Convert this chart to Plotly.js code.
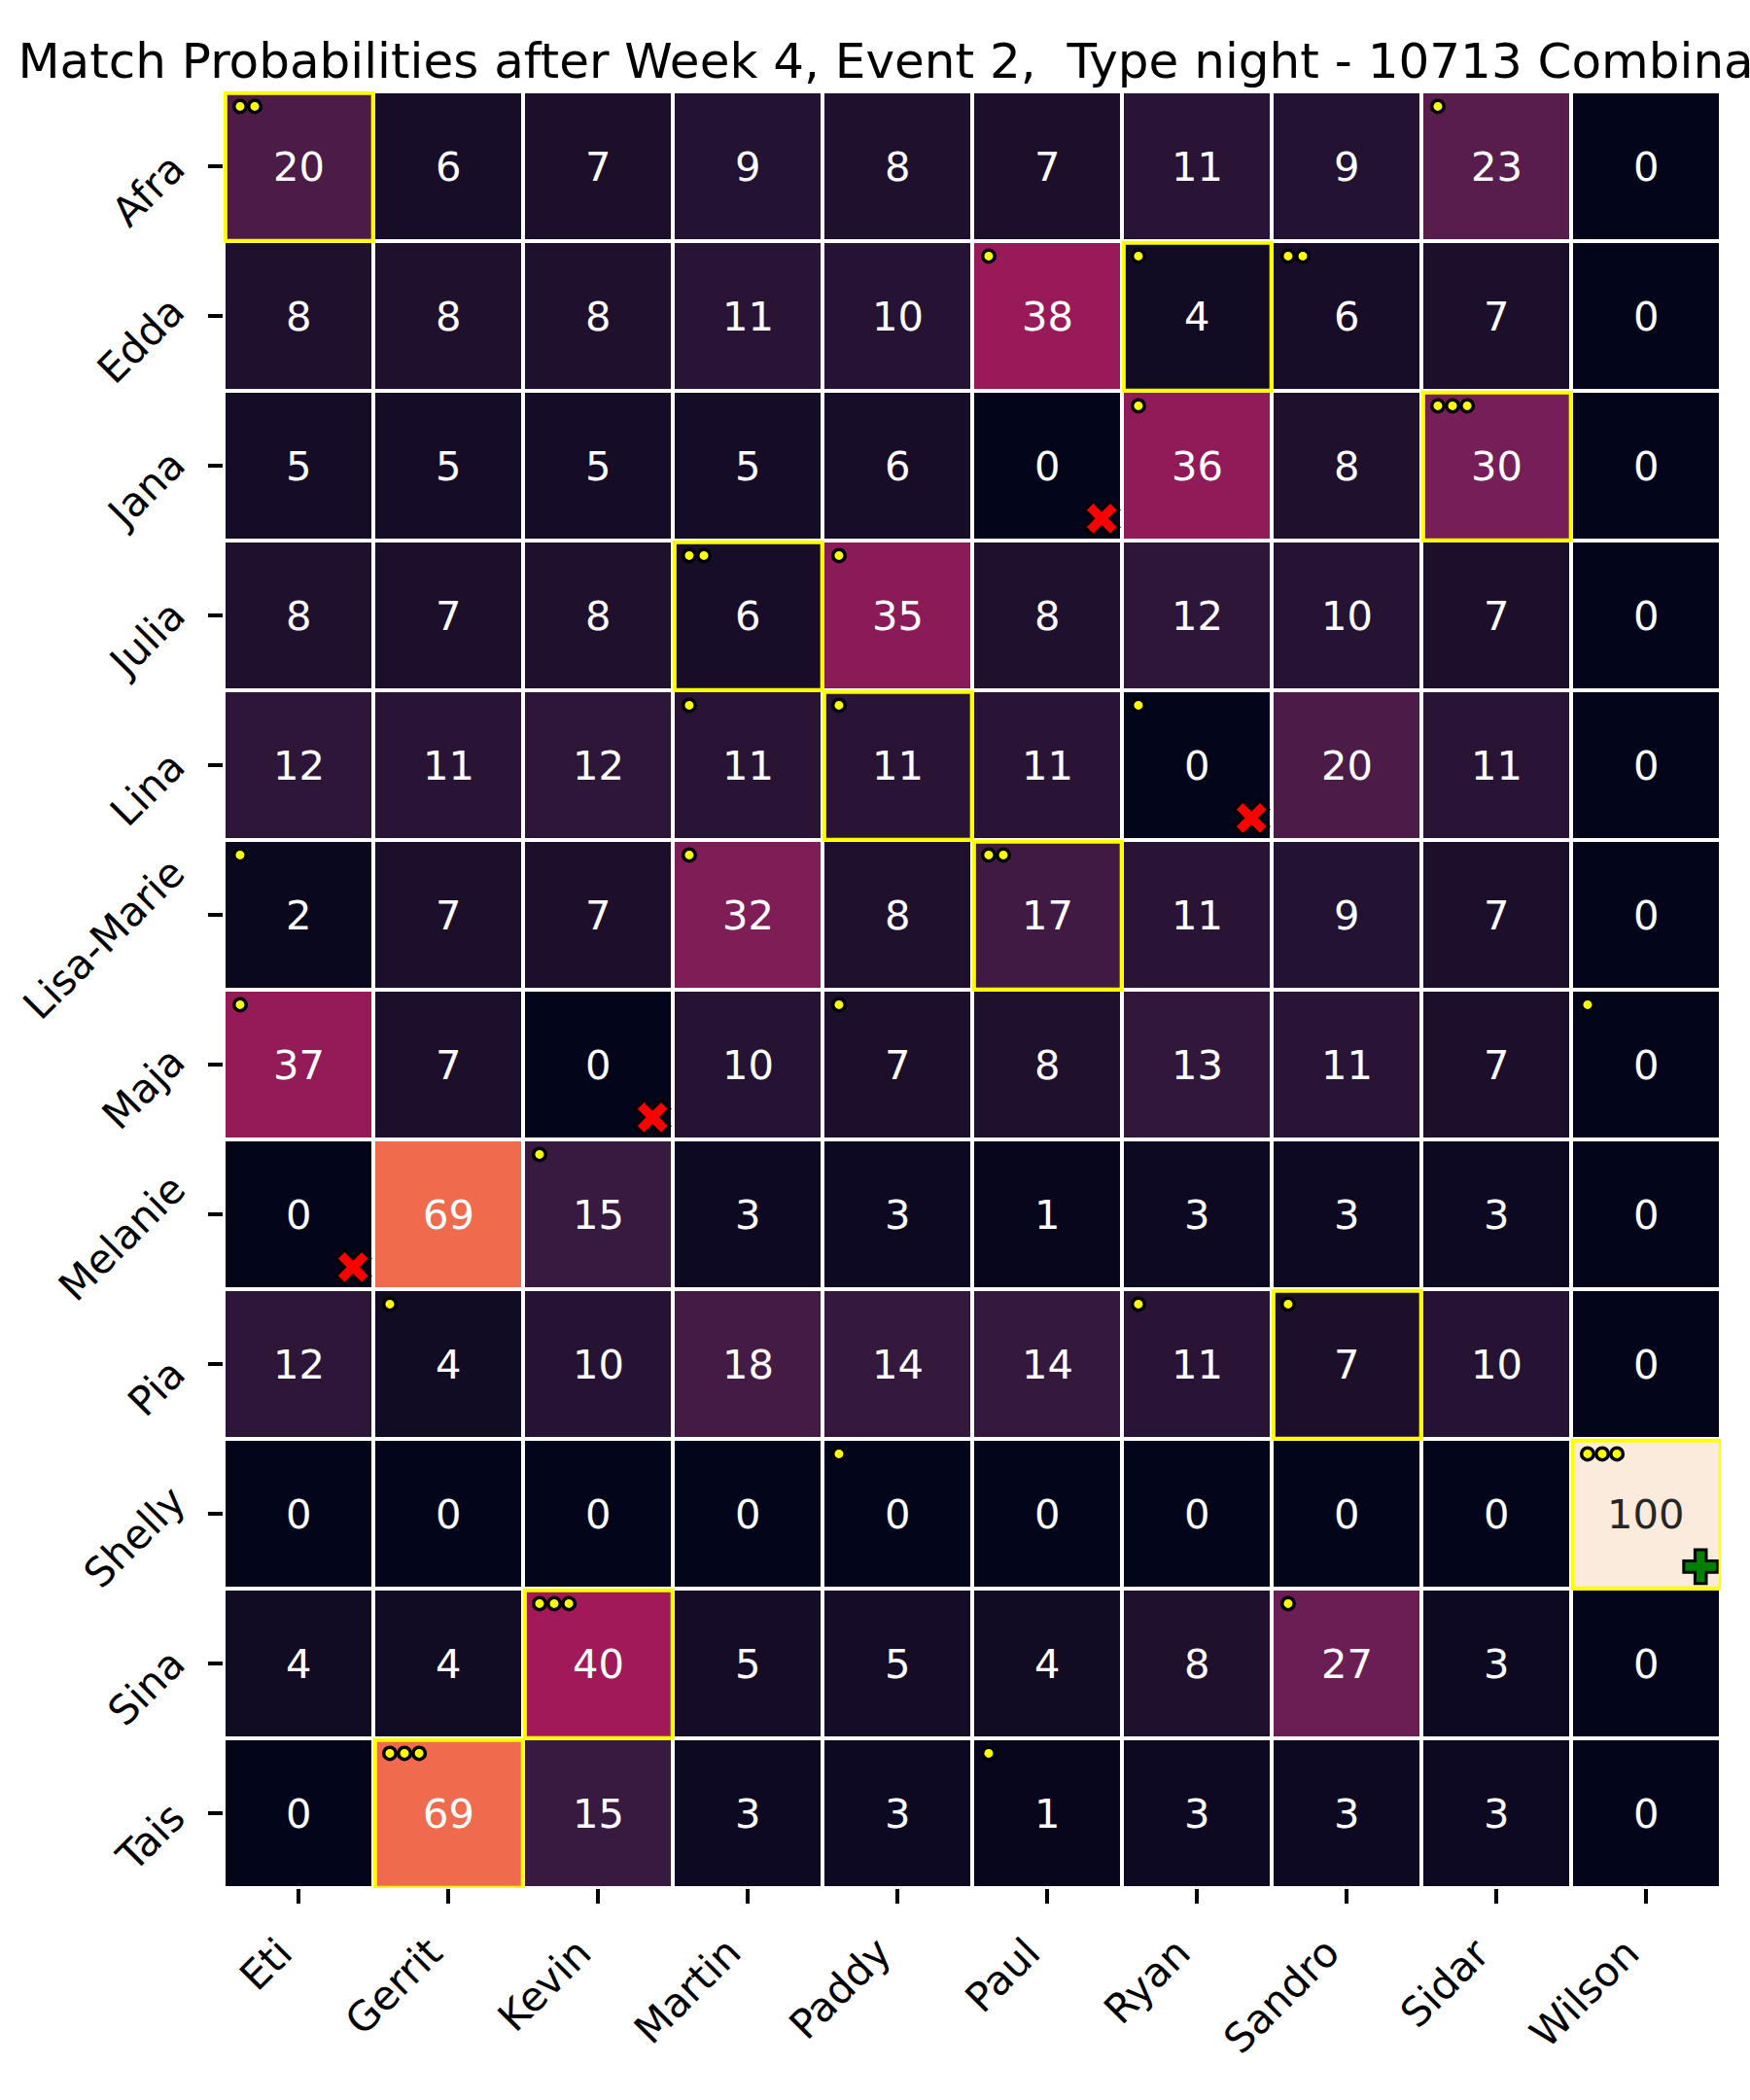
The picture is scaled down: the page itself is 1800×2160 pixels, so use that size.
<!DOCTYPE html>
<html>
<head>
<meta charset="utf-8">
<script src="https://cdn.plot.ly/plotly-3.0.1.min.js"></script>
<style>html,body{margin:0;padding:0;background:#ffffff;}</style>
</head>
<body>
<div id="chart" style="width:1800px;height:2160px"></div>
<script>
// ---------------- data ----------------
const women = ["Afra","Edda","Jana","Julia","Lina","Lisa-Marie","Maja","Melanie","Pia","Shelly","Sina","Tais"];
const men = ["Eti","Gerrit","Kevin","Martin","Paddy","Paul","Ryan","Sandro","Sidar","Wilson"];
const probs = [
  [20, 6, 7, 9, 8, 7,11, 9,23,  0],
  [ 8, 8, 8,11,10,38, 4, 6, 7,  0],
  [ 5, 5, 5, 5, 6, 0,36, 8,30,  0],
  [ 8, 7, 8, 6,35, 8,12,10, 7,  0],
  [12,11,12,11,11,11, 0,20,11,  0],
  [ 2, 7, 7,32, 8,17,11, 9, 7,  0],
  [37, 7, 0,10, 7, 8,13,11, 7,  0],
  [ 0,69,15, 3, 3, 1, 3, 3, 3,  0],
  [12, 4,10,18,14,14,11, 7,10,  0],
  [ 0, 0, 0, 0, 0, 0, 0, 0, 0,100],
  [ 4, 4,40, 5, 5, 4, 8,27, 3,  0],
  [ 0,69,15, 3, 3, 1, 3, 3, 3,  0]
];
// cells with a yellow frame [woman, man]
const boxedPairs = [["Afra","Eti"],["Edda","Ryan"],["Jana","Sidar"],["Julia","Martin"],["Lina","Paddy"],
  ["Lisa-Marie","Paul"],["Pia","Sandro"],["Shelly","Wilson"],["Sina","Kevin"],["Tais","Gerrit"]];
// yellow dots in the upper-left corner [woman, man, count]
const dotPairs = [["Afra","Eti",2],["Afra","Sidar",1],["Edda","Paul",1],["Edda","Ryan",1],["Edda","Sandro",2],
  ["Jana","Ryan",1],["Jana","Sidar",3],["Julia","Martin",2],["Julia","Paddy",1],["Lina","Martin",1],
  ["Lina","Paddy",1],["Lina","Ryan",1],["Lisa-Marie","Eti",1],["Lisa-Marie","Martin",1],["Lisa-Marie","Paul",2],
  ["Maja","Eti",1],["Maja","Paddy",1],["Maja","Wilson",1],["Melanie","Kevin",1],["Pia","Gerrit",1],
  ["Pia","Ryan",1],["Pia","Sandro",1],["Shelly","Paddy",1],["Shelly","Wilson",3],["Sina","Kevin",3],
  ["Sina","Sandro",1],["Tais","Gerrit",3],["Tais","Paul",1]];
// red crosses (no match) and green plus (perfect match)
const noMatchPairs = [["Jana","Paul"],["Lina","Ryan"],["Maja","Kevin"],["Melanie","Eti"]];
const perfectMatchPairs = [["Shelly","Wilson"]];
const titleText = "Match Probabilities after Week 4, Event 2,\u00A0 Type night - 10713 Combinations";

// ---------------- style ----------------
const FONT = "DejaVu Sans, Liberation Sans, sans-serif";
const FS = 41.67;
const TICKLEN = 14.6, TICKPAD = 14.6;
const rocket = [
  [0.0, "#03051a"], [0.142857, "#35193e"], [0.285714, "#701f57"], [0.428571, "#ad1759"],
  [0.571429, "#e13342"], [0.714286, "#f37651"], [0.857143, "#f6b48f"], [1.0, "#faebdd"]
];
const DOT_X0 = 0.11, DOT_DX = 0.098, DOT_Y0 = 0.1;
const MK_DX = 0.135, MK_DY = 0.147;

const colIdx = men.map((_, i) => i);
const rowIdx = women.map((_, i) => i);

// heatmap
const heat = {
  type: "heatmap", z: probs, x: colIdx, y: rowIdx,
  colorscale: rocket, zmin: 0, zmax: 100, showscale: false,
  xgap: 4, ygap: 4, hoverinfo: "skip"
};

const annotations = [];
// cell labels
probs.forEach((row, r) => row.forEach((v, c) => {
  annotations.push({
    x: c, y: r, xref: "x", yref: "y", text: String(v), showarrow: false,
    font: {family: FONT, size: FS, color: v >= 80 ? "#262626" : "#ffffff"},
    xanchor: "center", yanchor: "middle", borderpad: 0
  });
}));
// x tick labels (rotated, right/top aligned like matplotlib)
men.forEach((m, c) => {
  annotations.push({
    x: c, y: 0, xref: "x", yref: "paper", text: m, showarrow: false, textangle: -45,
    font: {family: FONT, size: FS, color: "#000000"},
    xanchor: "right", yanchor: "top", yshift: -(TICKLEN + TICKPAD + 11), xshift: 4, borderpad: 0
  });
});
// y tick labels (rotated, right aligned)
women.forEach((w, r) => {
  annotations.push({
    x: 0, y: r, xref: "paper", yref: "y", text: w, showarrow: false, textangle: -45,
    font: {family: FONT, size: FS, color: "#000000"},
    xanchor: "right", yanchor: "middle", xshift: -(TICKLEN + TICKPAD), yshift: -24, borderpad: 0
  });
});

// dots
const dx = [], dy = [];
dotPairs.forEach(([w, m, n]) => {
  const r = women.indexOf(w), c = men.indexOf(m);
  for (let k = 0; k < n; k++) { dx.push(c - 0.5 + DOT_X0 + k * DOT_DX); dy.push(r - 0.5 + DOT_Y0); }
});
const dotTrace = {
  type: "scatter", mode: "markers", x: dx, y: dy, hoverinfo: "skip", cliponaxis: false,
  marker: {symbol: "circle", size: 12.5, color: "#ffff00", line: {color: "#000000", width: 3.5}}
};

function cornerPts(pairs) {
  const xs = [], ys = [];
  pairs.forEach(([w, m]) => {
    const r = women.indexOf(w), c = men.indexOf(m);
    xs.push(c + 0.5 - MK_DX); ys.push(r + 0.5 - MK_DY);
  });
  return {xs, ys};
}
const nm = cornerPts(noMatchPairs);
const noMatchTrace = {
  type: "scatter", mode: "markers", x: nm.xs, y: nm.ys, hoverinfo: "skip", cliponaxis: false,
  marker: {symbol: "x", size: 31, color: "#ff0000", line: {color: "#000000", width: 3}}
};
const pm = cornerPts(perfectMatchPairs);
const perfectTrace = {
  type: "scatter", mode: "markers", x: pm.xs, y: pm.ys, hoverinfo: "skip", cliponaxis: false,
  marker: {symbol: "cross", size: 29, color: "#008000", line: {color: "#000000", width: 3}}
};

// yellow frames
const shapes = boxedPairs.map(([w, m]) => {
  const r = women.indexOf(w), c = men.indexOf(m);
  return {
    type: "rect", xref: "x", yref: "y",
    x0: c - 0.5 + 0.012, x1: c + 0.5 - 0.002, y0: r - 0.5 + 0.012, y1: r + 0.5 - 0.002,
    line: {color: "#ffff00", width: 4}, fillcolor: "rgba(0,0,0,0)", layer: "above"
  };
});

const axisCommon = {
  tickmode: "array", ticks: "outside", ticklen: TICKLEN, tickwidth: 3.3, tickcolor: "#000000",
  showticklabels: false, showgrid: false, zeroline: false, showline: false, fixedrange: true
};

const layout = {
  width: 1800, height: 2160,
  margin: {l: 230, r: 30, t: 94, b: 218, pad: 0},
  paper_bgcolor: "#ffffff", plot_bgcolor: "#ffffff",
  showlegend: false,
  title: {
    text: titleText, font: {family: FONT, size: 50, color: "#000000"},
    xref: "container", yref: "container", x: 972 / 1800, xanchor: "center",
    y: 1 - 62 / 2160, yanchor: "middle"
  },
  xaxis: Object.assign({}, axisCommon, {tickvals: colIdx, range: [-0.5, 9.5]}),
  yaxis: Object.assign({}, axisCommon, {tickvals: rowIdx, range: [11.5, -0.5]}),
  shapes: shapes,
  annotations: annotations
};

Plotly.newPlot("chart", [heat, dotTrace, noMatchTrace, perfectTrace], layout, {displayModeBar: false, staticPlot: true});
</script>
</body>
</html>
